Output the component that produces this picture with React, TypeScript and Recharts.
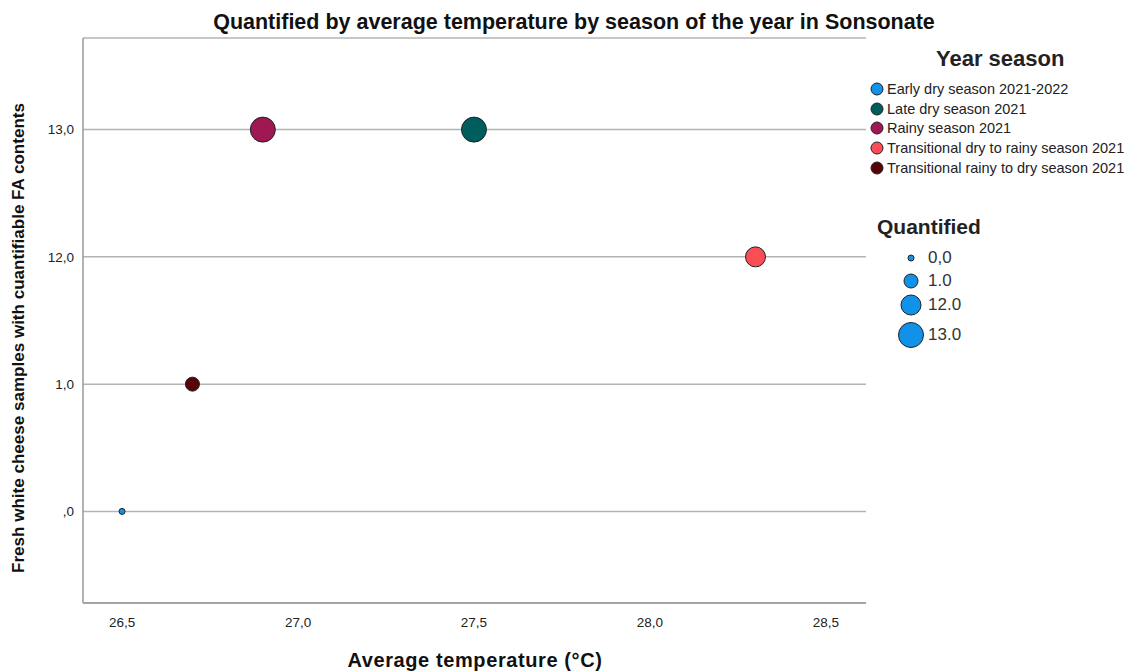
import React from 'react';
import { ScatterChart, Scatter, XAxis, YAxis, CartesianGrid } from 'recharts';

// y axis in the original is ordinal: each distinct count gets its own row
const quantifiedLevels = [0, 1, 12, 13];
const quantifiedLabels = [',0', '1,0', '12,0', '13,0'];
const sizeLegendLabels = ['0,0', '1.0', '12.0', '13.0'];

const seasons = [
  'Early dry season 2021-2022',
  'Late dry season 2021',
  'Rainy season 2021',
  'Transitional dry to rainy season 2021',
  'Transitional rainy to dry season 2021',
];
const avgTemperature = [26.5, 27.5, 26.9, 28.3, 26.7];
const quantified = [0, 13, 13, 12, 1];

const seasonColors = ['#1192e8', '#005d5d', '#9f1853', '#fa4d56', '#570408'];
const sizeRadius = [3, 7, 10, 12.5];

const xTicks = [26.5, 27.0, 27.5, 28.0, 28.5];

const FONT = 'Arial, "Liberation Sans", sans-serif';

const Bubble = (props: any) => {
  const { cx, cy, payload, fill } = props;
  const r = sizeRadius[payload.level];
  return <circle cx={cx} cy={cy} r={r} fill={fill} stroke="#222" strokeWidth={1} />;
};

const LegendBox = () => (
  <div style={{ position: 'absolute', left: 866, top: 0, width: 269, height: 400, fontFamily: FONT, color: '#222' }}>
    <div style={{ position: 'absolute', left: 70, top: 46, fontSize: 22, fontWeight: 'bold', lineHeight: '26px' }}>Year season</div>
    {seasons.map((s, i) => (
      <div key={s} style={{ position: 'absolute', left: 4, top: 80 + i * 19.7, height: 18, display: 'flex', alignItems: 'center', fontSize: 14.5, whiteSpace: 'nowrap' }}>
        <svg width={14} height={14} style={{ marginRight: 3 }}>
          <circle cx={7} cy={7} r={6} fill={seasonColors[i]} stroke="#222" strokeWidth={1} />
        </svg>
        {s}
      </div>
    ))}
    <div style={{ position: 'absolute', left: 11, top: 214, fontSize: 21, fontWeight: 'bold', lineHeight: '26px' }}>Quantified</div>
    {sizeLegendLabels.map((l, i) => (
      <div key={l} style={{ position: 'absolute', left: 30, top: [258, 281, 305, 335][i] - 14, height: 28, display: 'flex', alignItems: 'center', fontSize: 17, color: '#333' }}>
        <svg width={30} height={28}>
          <circle cx={15} cy={14} r={sizeRadius[i]} fill="#1192e8" stroke="#222" strokeWidth={1} />
        </svg>
        <span style={{ marginLeft: 2 }}>{l}</span>
      </div>
    ))}
  </div>
);

export default function App() {
  return (
    <div style={{ position: 'absolute', left: 0, top: 0, width: 1135, height: 671, background: '#fff', fontFamily: FONT, overflow: 'hidden' }}>
      <ScatterChart width={1135} height={671} margin={{ top: 38, right: 269, bottom: 0, left: 0 }}>
        <CartesianGrid horizontal vertical={false} stroke="#b4b4b4" strokeWidth={1.5} />
        <XAxis
          type="number"
          dataKey="x"
          domain={[26.389, 28.614]}
          ticks={xTicks}
          tickFormatter={(v: number) => v.toFixed(1).replace('.', ',')}
          allowDataOverflow
          height={68}
          stroke="#999"
          strokeWidth={1.5}
          tickLine={false}
          tick={{ fill: '#222', fontSize: 13.5, fontFamily: FONT }}
          tickMargin={8}
        />
        <YAxis
          type="number"
          dataKey="level"
          domain={[-0.72, 3.72]}
          ticks={quantifiedLevels.map((_, i) => i)}
          tickFormatter={(v: number) => quantifiedLabels[v]}
          allowDataOverflow
          width={83}
          stroke="#999"
          strokeWidth={1.5}
          tickLine={false}
          tick={{ fill: '#222', fontSize: 13.5, fontFamily: FONT }}
          tickMargin={3}
        />
        {seasons.map((s, i) => (
          <Scatter
            key={s}
            name={s}
            data={[{ x: avgTemperature[i], level: quantifiedLevels.indexOf(quantified[i]) }]}
            fill={seasonColors[i]}
            shape={Bubble}
            isAnimationActive={false}
          />
        ))}
      </ScatterChart>
      <div style={{ position: 'absolute', left: 0, top: 9, width: 1148, textAlign: 'center', fontSize: 21.5, fontWeight: 'bold', color: '#111', lineHeight: '26px' }}>
        Quantified by average temperature by season of the year in Sonsonate
      </div>
      <div style={{ position: 'absolute', left: 275, top: 648, width: 400, textAlign: 'center', fontSize: 20, fontWeight: 'bold', color: '#111', letterSpacing: 0.6, lineHeight: '24px' }}>
        Average temperature (°C)
      </div>
      <svg style={{ position: 'absolute', left: 0, top: 0 }} width={40} height={671}>
        <text transform="translate(24,338) rotate(-90)" textAnchor="middle" fontSize={16} fontWeight="bold" fill="#111" fontFamily={FONT} textLength={470} lengthAdjust="spacingAndGlyphs">
          Fresh white cheese samples with cuantifiable FA contents
        </text>
      </svg>
      <LegendBox />
    </div>
  );
}
